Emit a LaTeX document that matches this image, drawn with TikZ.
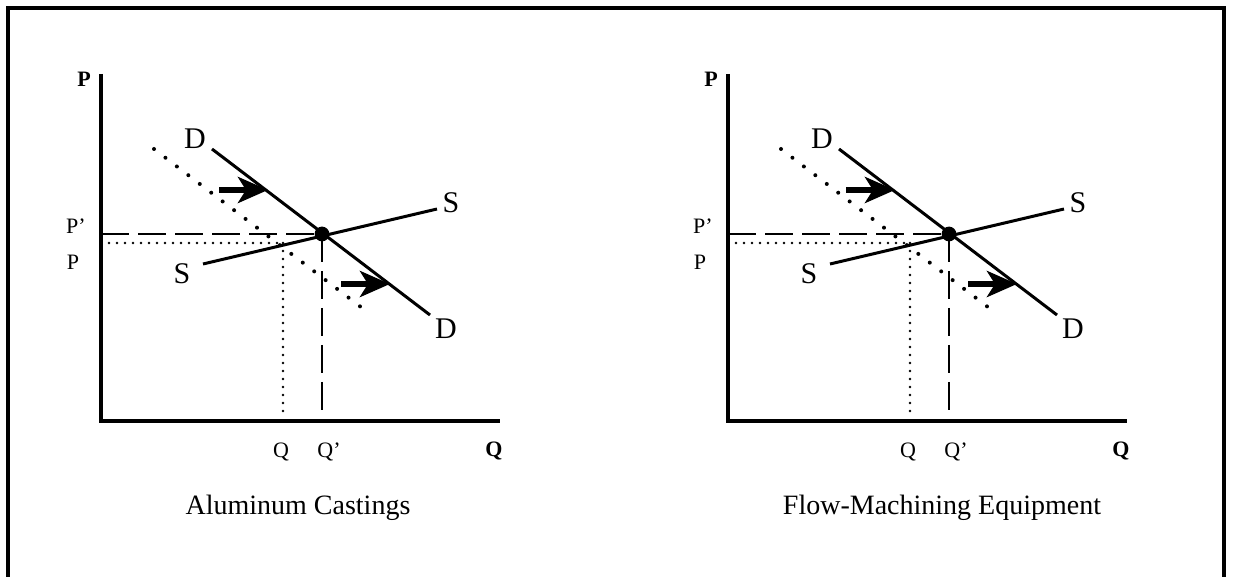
\documentclass[tikz,border=0pt]{standalone}
\usepackage{fontspec}
\setmainfont{Liberation Serif}
\usetikzlibrary{arrows.meta}

\begin{document}
\begin{tikzpicture}[
  x=0.5pt, y=-0.5pt,
  axisline/.style  = {line width=2pt},
  curveline/.style = {line width=1.5pt},
  oldcurve/.style  = {line width=2pt, line cap=round, dash pattern=on 0pt off 7.2pt},
  newguide/.style  = {line width=1.2pt, dash pattern=on 14pt off 4.5pt},
  oldguide/.style  = {line width=1.4pt, line cap=round, dash pattern=on 0pt off 4pt},
  shiftarrow/.style= {line width=3pt, -{Stealth[length=15pt, width=13pt, inset=4pt]}},
  lbl/.style       = {font=\fontsize{11}{13}\selectfont, inner sep=0pt},
  axlbl/.style     = {font=\fontsize{11}{13}\selectfont\bfseries, inner sep=0pt},
  curvelbl/.style  = {font=\fontsize{15}{18}\selectfont, inner sep=0pt},
  titlelbl/.style  = {font=\fontsize{14}{17}\selectfont, inner sep=0pt}
]
\useasboundingbox (0,0) rectangle (1233,577);

% frame, open at the bottom
\draw[line width=2pt] (8,577) -- (8,8) -- (1224,8) -- (1224,577);

\foreach \p/\dx/\tx/\title in {a/0/298/Aluminum Castings,
                               f/627/942/Flow-Machining Equipment}{
  \begin{scope}[shift={(\dx,0)}]
    % points
    \coordinate (O\p)    at (101,421);
    \coordinate (Ptop\p) at (101,74);
    \coordinate (Qend\p) at (500,421);
    \coordinate (E\p)    at (322,234);
    \coordinate (E0\p)   at (283,243);
    \coordinate (PE\p)   at (101,234);
    \coordinate (PO\p)   at (101,243);
    \coordinate (QE\p)   at (322,410);
    \coordinate (QO\p)   at (283,412);
    \coordinate (Da\p)   at (212,149);
    \coordinate (Db\p)   at (430,315);
    \coordinate (Oa\p)   at (154,149);
    \coordinate (Ob\p)   at (370,314);
    \coordinate (Sa\p)   at (203,264);
    \coordinate (Sb\p)   at (437,209);
    \coordinate (Au\p)   at (219,190);
    \coordinate (Bu\p)   at (268,190);
    \coordinate (Al\p)   at (341,284);
    \coordinate (Bl\p)   at (390,284);

    % labels
    \node[axlbl] (P\p)  at (84,79)   {P};
    \node[axlbl] (Q\p)  at (494,451) {Q};
    \node[lbl]   (Pn\p) at (76,226)  {P’};
    \node[lbl]   (Po\p) at (73,262)  {P};
    \node[lbl]   (Qo\p) at (281,452) {Q};
    \node[lbl]   (Qn\p) at (329,452) {Q’};
    \node[curvelbl] (D1\p) at (195,139) {D};
    \node[curvelbl] (D2\p) at (446,329) {D};
    \node[curvelbl] (S1\p) at (182,274) {S};
    \node[curvelbl] (S2\p) at (451,203) {S};

    % guides
    \draw[newguide] (PE\p) -- (E\p);
    \draw[newguide] (E\p)  -- (QE\p);
    \draw[oldguide] (PO\p) -- (E0\p);
    \draw[oldguide] (E0\p) -- (QO\p);

    % curves
    \draw[oldcurve]  (Oa\p) -- (Ob\p);
    \draw[curveline] (Da\p) -- (Db\p);
    \draw[curveline] (Sa\p) -- (Sb\p);
    \draw[shiftarrow] (Au\p) -- (Bu\p);
    \draw[shiftarrow] (Al\p) -- (Bl\p);
    \fill (E\p) circle[radius=3.7pt];

    % axes
    \draw[axisline] (Ptop\p) -- (O\p) -- (Qend\p);
  \end{scope}
  \node[titlelbl] (T\p) at (\tx,508) {\title};
}
\end{tikzpicture}
\end{document}
